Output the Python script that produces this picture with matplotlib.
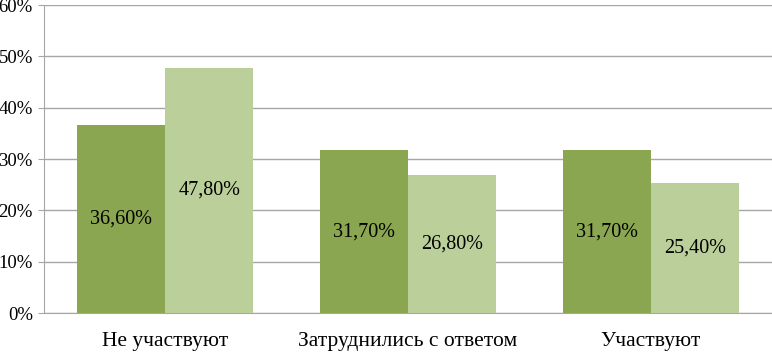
import matplotlib
matplotlib.use("Agg")
import matplotlib.pyplot as plt
import numpy as np

categories = ["Не участвуют", "Затруднились с ответом", "Участвуют"]
series_a = [36.6, 31.7, 31.7]
series_b = [47.8, 26.8, 25.4]
y_ticks = [0, 10, 20, 30, 40, 50, 60]

dark = "#8AA650"
light = "#BBCF9A"
grid_c = "#A6A6A6"

def main():
	plt.rcParams["font.family"] = ["Liberation Serif", "DejaVu Serif"]
	fig = plt.figure(figsize=(7.72, 3.52), dpi=100)
	ax = fig.add_axes([44 / 772, 39 / 352, 728 / 772, 308 / 352])

	x = np.arange(len(categories))
	w = 0.363
	bars_a = ax.bar(x - w / 2, series_a, w, color=dark, zorder=3)
	bars_b = ax.bar(x + w / 2, series_b, w, color=light, zorder=3)

	# labels in the middle of each bar
	for bars, vals in ((bars_a, series_a), (bars_b, series_b)):
		for b, v in zip(bars, vals):
			txt = f"{v:.2f}%".replace(".", ",")
			ax.text(b.get_x() + b.get_width() / 2, v / 2, txt,
					ha="center", va="center", fontsize=14.5, color="black", zorder=4)

	ax.set_xlim(-0.5, 2.5)
	ax.set_ylim(0, 60)
	ax.set_yticks(y_ticks)
	ax.set_yticklabels([f"{t}%" for t in y_ticks], fontsize=13.5)
	ax.set_xticks(x)
	ax.set_xticklabels(categories, fontsize=15.5)
	ax.tick_params(axis="x", length=0, pad=14)
	ax.tick_params(axis="y", length=4, color=grid_c, pad=4)

	ax.grid(axis="y", color=grid_c, linewidth=1, zorder=0)
	for s in ("top", "right"):
		ax.spines[s].set_visible(False)
	ax.spines["left"].set_color(grid_c)
	ax.spines["bottom"].set_color(grid_c)

	fig.savefig("out.png", dpi=100)

if __name__ == "__main__":
	main()
